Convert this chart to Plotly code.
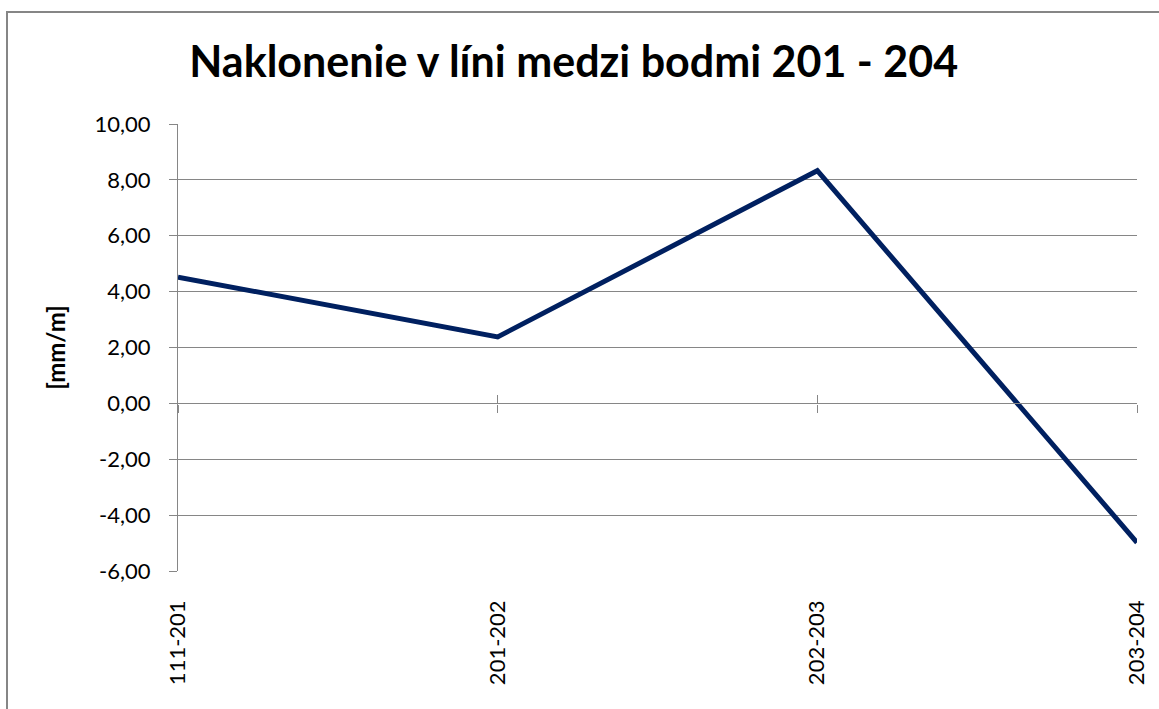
import plotly.graph_objects as go

categories = ["111-201", "201-202", "202-203", "203-204"]
values = [4.52, 2.38, 8.33, -4.98]
y_tickvals = [-6, -4, -2, 0, 2, 4, 6, 8, 10]
y_ticktext = [f"{v:.2f}".replace(".", ",") for v in y_tickvals]

title_text = "Naklonenie v líni medzi bodmi 201 - 204"
y_title = "[mm/m]"

W, H = 1159, 709
L, R, T, B = 178, 22, 124, 138
pw, ph = W - L - R, H - T - B

FONT = "Lato"
GRID = "#868686"
xpos = list(range(len(categories)))

fig = go.Figure()
fig.add_trace(go.Scatter(
    x=xpos, y=values, mode="lines",
    line=dict(color="#002060", width=5),
    hoverinfo="skip", showlegend=False,
))

def px_x(p):
    return (p - L) / pw

def px_y(p):
    return (H - B - p) / ph

fig.update_layout(
    width=W, height=H,
    margin=dict(l=L, r=R, t=T, b=B, autoexpand=False),
    paper_bgcolor="white", plot_bgcolor="white",
    font=dict(family=FONT, color="black", size=22),
    title=dict(text=f"<b>{title_text}</b>", font=dict(family=FONT, size=43, color="black"),
               x=0.495, xref="container", xanchor="center",
               y=1 - 62 / H, yref="container", yanchor="middle"),
    xaxis=dict(
        range=[0, len(categories) - 1], tickvals=xpos, ticktext=categories,
        tickangle=-90, showgrid=False, zeroline=False, showline=False,
        ticks="", ticklabelstandoff=24, automargin=False,
        tickfont=dict(family=FONT, size=22, color="black"),
    ),
    xaxis2=dict(
        overlaying="x", matches="x", anchor="free", position=6 / 16,
        range=[0, len(categories) - 1], tickvals=xpos, showticklabels=False,
        ticks="outside", ticklen=8, tickcolor=GRID, tickwidth=1.3,
        showgrid=False, zeroline=False, showline=True, linecolor=GRID, linewidth=1.3,
    ),
    xaxis3=dict(
        overlaying="x", matches="x", anchor="free", position=6 / 16,
        range=[0, len(categories) - 1], tickvals=xpos, showticklabels=False,
        ticks="inside", ticklen=8, tickcolor=GRID, tickwidth=1.3,
        showgrid=False, zeroline=False, showline=False,
    ),
    yaxis=dict(
        range=[-6, 10], tickvals=y_tickvals, ticktext=y_ticktext,
        showgrid=True, gridcolor=GRID, gridwidth=1.3, zeroline=False,
        showline=True, linecolor=GRID, linewidth=1.3,
        ticks="outside", ticklen=8, tickcolor=GRID, tickwidth=1.3,
        ticklabelstandoff=14, automargin=False,
        tickfont=dict(family=FONT, size=22, color="black"),
        title=dict(text=f"<b>{y_title}</b>", font=dict(family=FONT, size=24, color="black"),
                   standoff=22),
    ),
    shapes=[dict(
        type="rect", xref="paper", yref="paper",
        x0=px_x(7), x1=px_x(W + 20), y0=px_y(H + 20), y1=px_y(12),
        line=dict(color="#868686", width=2), fillcolor="rgba(0,0,0,0)", layer="below",
    )],
)
fig.add_trace(go.Scatter(x=[0], y=[0], xaxis="x2", mode="markers", marker=dict(opacity=0),
                         hoverinfo="skip", showlegend=False))
fig.add_trace(go.Scatter(x=[0], y=[0], xaxis="x3", mode="markers", marker=dict(opacity=0),
                         hoverinfo="skip", showlegend=False))

fig.write_html("out.html", config={"displayModeBar": False},
               post_script="document.body.style.margin='0';")
